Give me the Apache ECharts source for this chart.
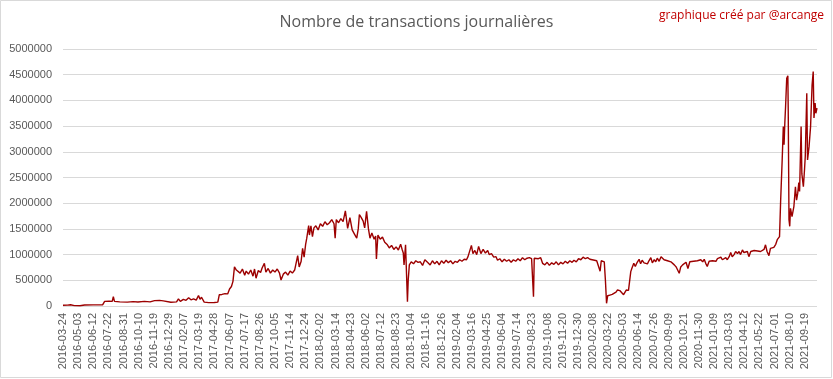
<!DOCTYPE html>
<html>
<head>
<meta charset="utf-8">
<script src="https://cdn.jsdelivr.net/npm/echarts@6/dist/echarts.min.js"></script>
<style>html,body{margin:0;padding:0;background:#fff;}#c{width:833px;height:379px;}</style>
</head>
<body>
<div id="c"></div>
<script>
const tickLabels = ["2016-03-24","2016-05-03","2016-06-12","2016-07-22","2016-08-31","2016-10-10","2016-11-19","2016-12-29","2017-02-07","2017-03-19","2017-04-28","2017-06-07","2017-07-17","2017-08-26","2017-10-05","2017-11-14","2017-12-24","2018-02-02","2018-03-14","2018-04-23","2018-06-02","2018-07-12","2018-08-23","2018-10-04","2018-11-16","2018-12-26","2019-02-04","2019-03-16","2019-04-25","2019-06-04","2019-07-14","2019-08-23","2019-10-08","2019-11-20","2019-12-30","2020-02-08","2020-03-22","2020-05-03","2020-06-14","2020-07-26","2020-09-09","2020-10-21","2020-11-30","2021-01-09","2021-03-03","2021-04-12","2021-05-22","2021-07-01","2021-08-10","2021-09-19"];

// day index (position in the daily series) and transactions
const dayIndex = [0,12,20,30,45,57,80,105,110,114,122,130,133,136,150,170,185,198,215,230,242,255,265,270,285,300,305,310,318,325,332,338,345,352,358,362,366,373,385,400,409,413,420,428,435,440,445,449,453,458,
462,468,474,480,484,490,496,502,506,510,516,522,526,532,536,542,548,554,560,566,572,576,582,588,594,600,606,612,616,620,624,629,633,637,641,644,649,651,655,659,663,668,674,680,686,692,698,704,710,716,719,722,728,734,740,746,752,758,764,770,776,780,783,788,793,797,802,807,811,816,822,826,828,832,838,844,850,857,862,868,874,880,886,892,896,899,901,905,908,910,912,915,920,926,932,938,
944,950,956,963,970,976,982,988,994,1000,1006,1012,1018,1024,1030,1036,1042,1048,1054,1060,1066,1070,1073,1079,1083,1088,1093,1098,1104,1110,1116,1122,1126,1132,1138,1144,1148,1154,1160,1166,1172,1178,1184,1190,1196,1202,1208,1214,1220,1226,1232,1238,1241,1243,1245,1250,1256,1262,1267,1273,1279,1285,1291,1297,1303,1309,1315,1321,1327,1333,1339,1345,1350,1356,1362,1368,1374,1380,1386,1392,1398,1403,1410,1415,1419,1422,1426,1430,1433,1436,1439,1445,1451,1456,1461,1465,1471,1481,1488,1494,1499,
1500,1503,1508,1512,1517,1522,1526,1530,1535,1540,1544,1548,1553,1557,1562,1566,1570,1575,1580,1583,1588,1592,1597,1602,1606,1610,1615,1620,1624,1628,1632,1637,1642,1646,1651,1656,1661,1666,1671,1676,1680,1685,1690,1694,1698,1702,1707,1711,1716,1720,1725,1729,1734,1738,1742,1747,1751,1755,1760,1764,1768,1773,1777,1782,1786,1790,1795,1799,1804,1808,1812,1817,1822,1826,1830,1835,1839,1843,1848,1852,1856,1860,1865,1869,1874,1878,1883,1887,1893,
1896,1900,1903,1905,1907,1909,1912,1915,1916,1918,1920,1922,1926,1931,1935,1938,1941,1944,1946,1950,1952,1956,1959,1961,1965,1967,1971,1975,1979,1982,1984,1987,1989,1992];

const transactions = [15000,18000,25000,8000,5000,20000,22000,25000,90000,100000,95000,90000,180000,90000,80000,75000,85000,78000,90000,80000,105000,110000,100000,75000,72000,80000,140000,90000,130000,110000,160000,120000,140000,115000,205000,130000,170000,75000,65000,68000,75000,220000,225000,240000,235000,330000,380000,480000,760000,700000,
690000,640000,720000,600000,680000,620000,700000,580000,720000,540000,690000,650000,740000,830000,660000,730000,640000,700000,660000,720000,640000,506000,620000,660000,600000,680000,640000,700000,730000,980000,760000,864000,1120000,950000,1200000,1320000,1565000,1380000,1560000,1350000,1520000,1560000,1480000,1600000,1550000,1640000,1580000,1620000,1680000,1600000,1320000,1680000,1620000,1700000,1640000,1850000,1510000,1720000,1480000,1400000,1320000,1500000,1780000,1720000,1650000,1520000,1840000,1500000,1320000,1420000,1300000,1360000,916000,1380000,1300000,1340000,1240000,1190000,1130000,1180000,1100000,1150000,1090000,1200000,1100000,1030000,800000,1190000,1160000,84000,500000,800000,860000,820000,880000,850000,
860000,790000,900000,850000,800000,880000,820000,870000,800000,880000,830000,890000,840000,880000,820000,870000,850000,900000,870000,910000,900000,960000,990000,1180000,1020000,1080000,1000000,1160000,1020000,1100000,1030000,1080000,1000000,1020000,950000,960000,890000,920000,860000,910000,870000,900000,850000,900000,870000,920000,880000,940000,900000,930000,940000,920000,940000,180000,930000,960000,920000,940000,830000,800000,850000,790000,840000,810000,860000,800000,850000,820000,870000,830000,880000,850000,890000,860000,920000,900000,950000,920000,940000,910000,900000,930000,880000,900000,677000,880000,870000,858000,500000,52000,200000,213000,225000,247000,270000,312000,300000,220000,310000,305000,320000,
669000,734000,830000,770000,850000,909000,820000,890000,840000,870000,820000,880000,941000,840000,900000,860000,930000,870000,960000,993000,900000,880000,880000,870000,860000,830000,800000,760000,790000,636000,760000,800000,830000,850000,730000,860000,850000,870000,840000,880000,860000,900000,860000,909000,830000,770000,870000,900000,880000,900000,870000,920000,890000,950000,900000,920000,940000,900000,960000,1040000,960000,1000000,1060000,1020000,1060000,1000000,1090000,1040000,1060000,1060000,960000,1060000,1040000,1080000,1050000,1070000,1040000,1060000,1080000,1100000,1190000,1060000,980000,1120000,1100000,1140000,1200000,1290000,1350000,
2060000,2840000,3490000,3140000,3560000,3880000,4430000,4480000,3800000,1680000,1550000,1900000,1740000,1940000,2320000,2060000,2190000,2400000,2230000,3490000,2570000,2320000,2650000,2910000,4140000,2840000,3100000,3490000,4300000,4560000,3660000,3950000,3750000,3850000];

const yTicks = [0,500000,1000000,1500000,2000000,2500000,3000000,3500000,4000000,4500000,5000000];
const titleText = "Nombre de transactions journalières";
const creditText = "graphique créé par @arcange";

const seriesData = dayIndex.map((d, i) => [d, transactions[i]]);

const chart = echarts.init(document.getElementById('c'), null, {renderer: 'canvas'});
chart.setOption({
  animation: false,
  backgroundColor: '#ffffff',
  title: {
    text: titleText,
    left: 'center',
    top: 9,
    textStyle: {fontFamily: 'Open Sans', fontSize: 16, fontWeight: 'normal', color: '#595959'}
  },
  graphic: [
    {type: 'rect', shape: {x: 0.5, y: 0.5, width: 831, height: 377}, style: {fill: 'none', stroke: '#d9d9d9', lineWidth: 1}, silent: true},
    {type: 'text', right: 9, top: 10, style: {text: creditText, fill: '#c00000', font: '12px "Open Sans"'}}
  ],
  grid: {left: 63, right: 16, top: 49, bottom: 73, containLabel: false},
  xAxis: {
    type: 'value',
    min: 0,
    max: dayIndex[dayIndex.length - 1],
    interval: 40,
    splitLine: {show: false},
    axisLine: {show: false},
    axisTick: {show: false},
    axisLabel: {
      rotate: 90,
      margin: 7,
      color: '#595959',
      fontFamily: 'Liberation Sans',
      fontSize: 11,
      showMaxLabel: false,
      formatter: v => (v % 40 === 0 && tickLabels[v / 40]) ? tickLabels[v / 40] : ''
    }
  },
  yAxis: {
    type: 'value',
    min: yTicks[0],
    max: yTicks[yTicks.length - 1],
    interval: yTicks[1] - yTicks[0],
    axisLine: {show: false},
    axisTick: {show: false},
    splitLine: {lineStyle: {color: '#d9d9d9', width: 1}},
    axisLabel: {color: '#595959', fontFamily: 'Liberation Sans', fontSize: 11, margin: 11, formatter: v => String(v)}
  },
  series: [{
    type: 'line',
    data: seriesData,
    showSymbol: false,
    symbol: 'none',
    lineStyle: {color: '#9c0000', width: 1.4},
    itemStyle: {color: '#9c0000'}
  }]
});
</script>
</body>
</html>
